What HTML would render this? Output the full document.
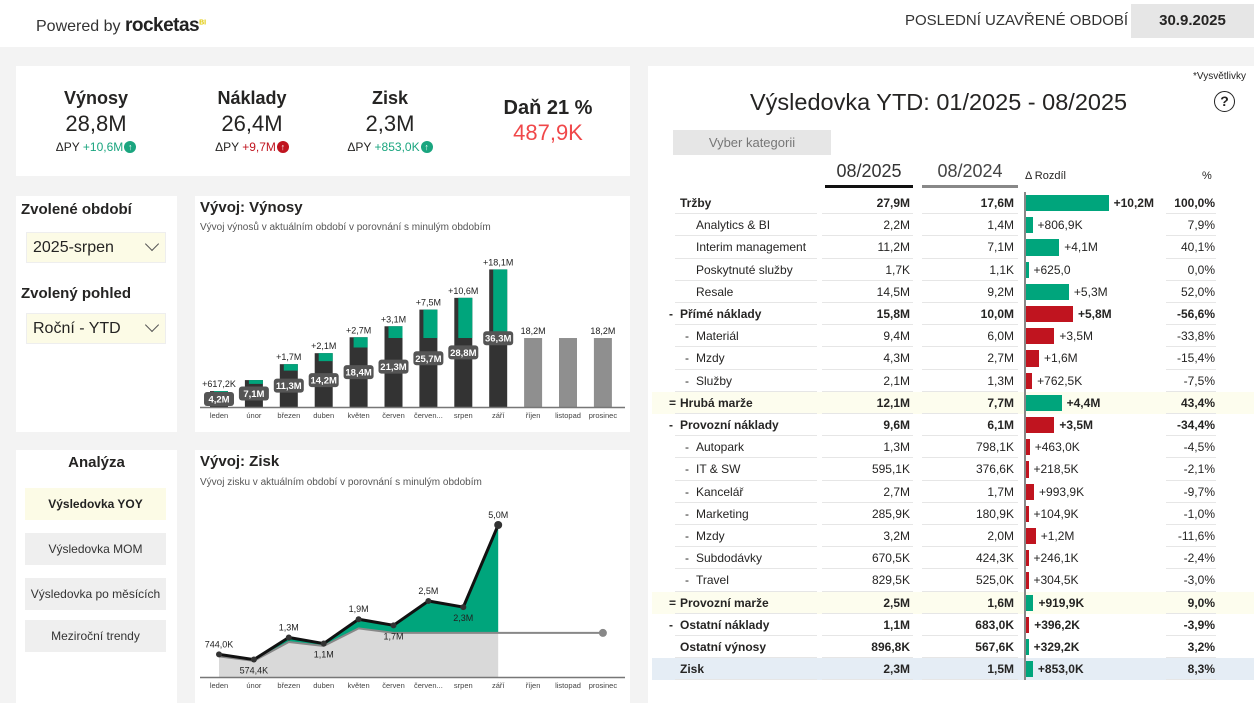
<!DOCTYPE html>
<html><head><meta charset="utf-8">
<style>
*{box-sizing:border-box;margin:0;padding:0}
body{width:1254px;height:703px;overflow:hidden;background:#f3f3f3;font-family:"Liberation Sans",sans-serif;color:#252423;position:relative}
.abs{position:absolute}
.card{position:absolute;background:#fff}
.c{text-align:center}
.btn{position:absolute;left:25px;width:141px;height:32px;background:#efefef;font-size:12px;display:flex;align-items:center;justify-content:center;color:#333}
.dd{position:absolute;left:26px;width:140px;height:31px;background:#fcfbe6;border:1px solid #eee;font-size:16px;padding-left:6px;display:flex;align-items:center}
.dd span.ch{position:absolute;right:8px;top:6px;width:10px;height:10px;border-right:1.3px solid #555;border-bottom:1.3px solid #555;transform:rotate(45deg)}
.kpi{position:absolute;top:88px;text-align:center}
.kt{font-size:18px;font-weight:bold}
.kv{font-size:22px;margin-top:2px}
.kd{font-size:12px;margin-top:3px}
.arr{display:inline-block;width:12px;height:12px;border-radius:50%;color:#fff;font-size:9px;line-height:12px;vertical-align:1px;font-weight:bold;margin-left:1px}
#tbl div{position:absolute;font-size:12px;white-space:nowrap}
</style></head><body>
<div class="abs" style="left:0;top:0;width:1254px;height:47px;background:#fff"></div>
<div class="abs" style="left:36px;top:15px;font-size:16px;color:#333">Powered by <b style="font-size:19px;letter-spacing:-0.5px;color:#222">rocketas</b><sup style="font-size:7px;color:#e0c800;font-weight:bold">BI</sup></div>
<div class="abs" style="left:905px;top:12px;font-size:15px;color:#333">POSLEDNÍ UZAVŘENÉ OBDOBÍ</div>
<div class="abs c" style="left:1131px;top:4px;width:123px;height:34px;background:#e6e6e6;font-size:15px;font-weight:bold;line-height:34px">30.9.2025</div>

<div class="card" style="left:16px;top:66px;width:614px;height:110px"></div>
<div class="kpi" style="left:36px;width:120px"><div class="kt">Výnosy</div><div class="kv">28,8M</div><div class="kd">ΔPY <span style="color:#1aa57f">+10,6M</span><span class="arr" style="background:#1aa57f">↑</span></div></div>
<div class="kpi" style="left:192px;width:120px"><div class="kt">Náklady</div><div class="kv">26,4M</div><div class="kd">ΔPY <span style="color:#c0141f">+9,7M</span><span class="arr" style="background:#c0141f">↑</span></div></div>
<div class="kpi" style="left:330px;width:120px"><div class="kt">Zisk</div><div class="kv">2,3M</div><div class="kd">ΔPY <span style="color:#1aa57f">+853,0K</span><span class="arr" style="background:#1aa57f">↑</span></div></div>
<div class="kpi" style="left:488px;top:97px;width:120px"><div class="kt" style="font-size:20px">Daň 21 %</div><div class="kv" style="color:#f0484a;margin-top:0">487,9K</div></div>

<div class="card" style="left:16px;top:196px;width:161px;height:236px"></div>
<div class="abs" style="left:21px;top:201px;font-size:15px;font-weight:bold">Zvolené období</div>
<div class="dd" style="top:232px">2025-srpen<span class="ch"></span></div>
<div class="abs" style="left:21px;top:285px;font-size:15px;font-weight:bold">Zvolený pohled</div>
<div class="dd" style="top:313px">Roční - YTD<span class="ch"></span></div>

<div class="card" style="left:16px;top:450px;width:161px;height:253px"></div>
<div class="abs c" style="left:16px;width:161px;top:454px;font-size:15px;font-weight:bold">Analýza</div>
<div class="btn" style="top:488px;background:#fcfbe6;font-weight:bold;color:#222">Výsledovka YOY</div>
<div class="btn" style="top:533px">Výsledovka MOM</div>
<div class="btn" style="top:578px">Výsledovka po měsících</div>
<div class="btn" style="top:620px">Meziroční trendy</div>

<div class="card" style="left:195px;top:196px;width:435px;height:236px"></div>
<div class="abs" style="left:200px;top:199px;font-size:15px;font-weight:bold">Vývoj: Výnosy</div>
<div class="abs" style="left:200px;top:222px;font-size:10px;color:#555">Vývoj výnosů v aktuálním období v porovnání s minulým obdobím</div>
<svg class="abs" id="wf" style="left:0;top:0" width="640" height="440"></svg>

<div class="card" style="left:195px;top:450px;width:435px;height:253px"></div>
<div class="abs" style="left:200px;top:453px;font-size:15px;font-weight:bold">Vývoj: Zisk</div>
<div class="abs" style="left:200px;top:477px;font-size:10px;color:#555">Vývoj zisku v aktuálním období v porovnání s minulým obdobím</div>
<svg class="abs" id="lc" style="left:0;top:0" width="640" height="703"></svg>

<div class="card" style="left:648px;top:66px;width:606px;height:637px"></div>
<div class="abs" style="left:1193px;top:71px;font-size:10px">*Vysvětlivky</div>
<div class="abs c" style="left:1214px;top:91px;width:21px;height:21px;border:1.8px solid #222;border-radius:50%;font-size:14px;font-weight:bold;line-height:18px">?</div>
<div class="abs" style="left:750px;top:89px;font-size:23.5px;color:#252423">Výsledovka YTD: 01/2025 - 08/2025</div>
<div class="abs c" style="left:673px;top:130px;width:158px;height:25px;background:#e6e6e6;font-size:13px;line-height:25px;color:#777">Vyber kategorii</div>
<div class="abs c" style="left:825px;top:161px;width:88px;font-size:18px;color:#333">08/2025</div>
<div class="abs" style="left:825px;top:185px;width:88px;height:3px;background:#111"></div>
<div class="abs c" style="left:922px;top:161px;width:96px;font-size:18px;color:#444">08/2024</div>
<div class="abs" style="left:922px;top:185px;width:96px;height:3px;background:#888"></div>
<div class="abs" style="left:1025px;top:170px;font-size:11px">Δ Rozdíl</div>
<div class="abs" style="left:1202px;top:170px;font-size:11px">%</div>
<div id="tbl"></div>

<script>
const NS='http://www.w3.org/2000/svg';
function mk(p,t,a){const e=document.createElementNS(NS,t);for(const k in a)e.setAttribute(k,a[k]);p.appendChild(e);return e;}
const months=['leden','únor','březen','duben','květen','červen','červen...','srpen','září','říjen','listopad','prosinec'];
// waterfall data (M)
const revCY=[4.2,7.1,11.3,14.2,18.4,21.3,25.7,28.8,36.3,null,null,null];
const revDelta=[0.617,1.0,1.7,2.1,2.7,3.1,7.5,10.6,18.1,null,null,null];
const revDeltaLabels=['+617,2K','','+1,7M','+2,1M','+2,7M','+3,1M','+7,5M','+10,6M','+18,1M','','',''];
const revCYLabels=['4,2M','7,1M','11,3M','14,2M','18,4M','21,3M','25,7M','28,8M','36,3M','','',''];
const revPYrest=[null,null,null,null,null,null,null,null,null,18.2,18.2,18.2];
const revPYrestLabels=['','','','','','','','','','18,2M','','18,2M'];
// profit data (M)
const profCY=[0.744,0.574,1.3,1.1,1.9,1.7,2.5,2.3,5.0];
const profPY=[0.68,0.53,1.15,1.02,1.6,1.45,1.45,1.45,1.45,1.45,1.45,1.45];
const profLabels=['744,0K','574,4K','1,3M','1,1M','1,9M','1,7M','2,5M','2,3M','5,0M'];

const xc=i=>219+i*34.9;
(function(){
 const s=document.getElementById('wf');const base=407,sc=3.79,y=v=>base-v*sc;
 months.forEach((m,i)=>{
  const cx=xc(i);
  if(revCY[i]!=null){
   let r=mk(s,'rect',{x:cx-9,y:y(revCY[i]),width:18,height:revCY[i]*sc,fill:'#333'});
   
   let g=mk(s,'rect',{x:cx-5,y:y(revCY[i]),width:14,height:revDelta[i]*sc,fill:'#00a57c'});
   
   if(revDeltaLabels[i]){let t=mk(s,'text',{x:cx,y:y(revCY[i])-4,'font-size':9,'text-anchor':'middle',fill:'#222'});t.textContent=revDeltaLabels[i];
    }
   const mid=y(revCY[i]/2);
   let bx=mk(s,'rect',{x:cx-15,y:mid-7,width:30,height:14,rx:3,fill:'#555'});
   
   let t=mk(s,'text',{x:cx,y:mid+3.5,'font-size':9.5,'font-weight':'bold','text-anchor':'middle',fill:'#fff'});t.textContent=revCYLabels[i];
   
  } else {
   let r=mk(s,'rect',{x:cx-9,y:y(revPYrest[i]),width:18,height:revPYrest[i]*sc,fill:'#8f8f8f'});
   
   if(revPYrestLabels[i]){let t=mk(s,'text',{x:cx,y:y(revPYrest[i])-4,'font-size':9,'text-anchor':'middle',fill:'#222'});t.textContent=revPYrestLabels[i];
    }
  }
  let t=mk(s,'text',{x:cx,y:418,'font-size':7.5,'text-anchor':'middle',fill:'#444'});t.textContent=m;
  
 });
 let ax=mk(s,'line',{x1:200,x2:625,y1:base+0.5,y2:base+0.5,stroke:'#777','stroke-width':1.5});
 
})();
(function(){
 const s=document.getElementById('lc');const base=677,sc=30.4,y=v=>base-v*sc;
 const n=profCY.length;
 let gp='M'+xc(0)+','+base;for(let i=0;i<n;i++)gp+=' L'+xc(i)+','+y(profPY[i]);gp+=' L'+xc(n-1)+','+base+' Z';
 let a=mk(s,'path',{d:gp,fill:'#d9d9d9'});
 let gr='M'+xc(0)+','+y(profPY[0]);for(let i=1;i<n;i++)gr+=' L'+xc(i)+','+y(Math.max(profPY[i],profCY[i]));
 for(let i=n-1;i>=0;i--)gr+=' L'+xc(i)+','+y(profPY[i]);gr+=' Z';
 let g=mk(s,'path',{d:gr,fill:'#00a57c'});
 let pl=profPY.map((v,i)=>xc(i)+','+y(v)).join(' ');
 let p=mk(s,'polyline',{points:pl,fill:'none',stroke:'#888','stroke-width':2});
 let e=mk(s,'circle',{cx:xc(11),cy:y(profPY[11]),r:4,fill:'#888'});
 let cl=profCY.map((v,i)=>xc(i)+','+y(v)).join(' ');
 let c=mk(s,'polyline',{points:cl,fill:'none',stroke:'#111','stroke-width':3});
 profCY.forEach((v,i)=>{
  let d=mk(s,'circle',{cx:xc(i),cy:y(v),r:i==n-1?4:3,fill:'#333'});
  const below=(i==1||i==3||i==5||i==7);
  let t=mk(s,'text',{x:xc(i),y:below?y(v)+14:y(v)-7,'font-size':9,'text-anchor':'middle',fill:'#222'});t.textContent=profLabels[i];
  
 });
 months.forEach((m,i)=>{let t=mk(s,'text',{x:xc(i),y:688,'font-size':7.5,'text-anchor':'middle',fill:'#444'});t.textContent=m;
  });
 let ax=mk(s,'line',{x1:200,x2:625,y1:base+0.5,y2:base+0.5,stroke:'#777','stroke-width':1.5});
 
})();
// table
const rowLabels=['Tržby','Analytics & BI','Interim management','Poskytnuté služby','Resale','Přímé náklady','Materiál','Mzdy','Služby','Hrubá marže','Provozní náklady','Autopark','IT & SW','Kancelář','Marketing','Mzdy','Subdodávky','Travel','Provozní marže','Ostatní náklady','Ostatní výnosy','Zisk'];
const rowPrefix=['','','','','','-','-','-','-','=','-','-','-','-','-','-','-','-','=','-','',''];
const rowLevel=[0,1,1,1,1,0,1,1,1,0,0,1,1,1,1,1,1,1,0,0,0,0];
const rowBold=[1,0,0,0,0,1,0,0,0,1,1,0,0,0,0,0,0,0,1,1,1,1];
const cyVals=['27,9M','2,2M','11,2M','1,7K','14,5M','15,8M','9,4M','4,3M','2,1M','12,1M','9,6M','1,3M','595,1K','2,7M','285,9K','3,2M','670,5K','829,5K','2,5M','1,1M','896,8K','2,3M'];
const pyVals=['17,6M','1,4M','7,1M','1,1K','9,2M','10,0M','6,0M','2,7M','1,3M','7,7M','6,1M','798,1K','376,6K','1,7M','180,9K','2,0M','424,3K','525,0K','1,6M','683,0K','567,6K','1,5M'];
const deltaLabels=['+10,2M','+806,9K','+4,1M','+625,0','+5,3M','+5,8M','+3,5M','+1,6M','+762,5K','+4,4M','+3,5M','+463,0K','+218,5K','+993,9K','+104,9K','+1,2M','+246,1K','+304,5K','+919,9K','+396,2K','+329,2K','+853,0K'];
const deltaVals=[10.2,0.807,4.1,0.0006,5.3,5.8,3.5,1.6,0.7625,4.4,3.5,0.463,0.2185,0.9939,0.1049,1.2,0.2461,0.3045,0.9199,0.3962,0.3292,0.853];
const deltaGood=[1,1,1,1,1,0,0,0,0,1,0,0,0,0,0,0,0,0,1,0,1,1];
const pctVals=['100,0%','7,9%','40,1%','0,0%','52,0%','-56,6%','-33,8%','-15,4%','-7,5%','43,4%','-34,4%','-4,5%','-2,1%','-9,7%','-1,0%','-11,6%','-2,4%','-3,0%','9,0%','-3,9%','3,2%','8,3%'];
const rowBg=['','','','','','','','','','#fdfdee','','','','','','','','','#fdfdee','','','#e5edf5'];
(function(){
 const T=document.getElementById('tbl');const top0=192,rh=22.2;
 function div(css,txt,name,inter){const d=document.createElement('div');d.style.cssText=css;if(txt!=null)d.textContent=txt;
  T.appendChild(d);return d;}
 rowLabels.forEach((lab,i)=>{
  const y=top0+i*rh;const fw=rowBold[i]?'bold':'normal';
  if(rowBg[i]){div(`left:652px;top:${y}px;width:602px;height:${rh}px;background:${rowBg[i]}`,null,'row-highlight',false);}
  [[675,142],[822,91],[922,96],[1166,50]].forEach(c=>div(`left:${c[0]}px;top:${y+rh-1}px;width:${c[1]}px;height:1px;background:#e6e6e6`,null,'row-divider',false));
  const lx=rowLevel[i]?696:680;
  if(rowPrefix[i])div(`left:${lx-11}px;top:${y+4}px;font-weight:${fw}`,rowPrefix[i],'row-prefix',false);
  div(`left:${lx}px;top:${y+4}px;font-weight:${fw}`,lab,'row-label',true);
  div(`left:822px;width:88px;text-align:right;top:${y+4}px;font-weight:${fw}`,cyVals[i],'cy-value',false);
  div(`left:922px;width:92px;text-align:right;top:${y+4}px;font-weight:${fw}`,pyVals[i],'py-value',false);
  const w=Math.max(2.5,deltaVals[i]*8.1);
  div(`left:1026px;top:${y+3}px;width:${w}px;height:${rh-6}px;background:${deltaGood[i]?'#00a57c':'#c0141f'}`,null,'delta-bar',true);
  div(`left:${1026+w+5}px;top:${y+4}px;font-weight:${fw}`,deltaLabels[i],'delta-label',false);
  div(`left:1160px;width:55px;text-align:right;top:${y+4}px;font-weight:${fw}`,pctVals[i],'pct-value',false);
 });
 div(`left:1024px;top:${top0}px;width:2px;height:${rh*rowLabels.length}px;background:#888`,null,'delta-axis',false);
})();
</script>
</body></html>
